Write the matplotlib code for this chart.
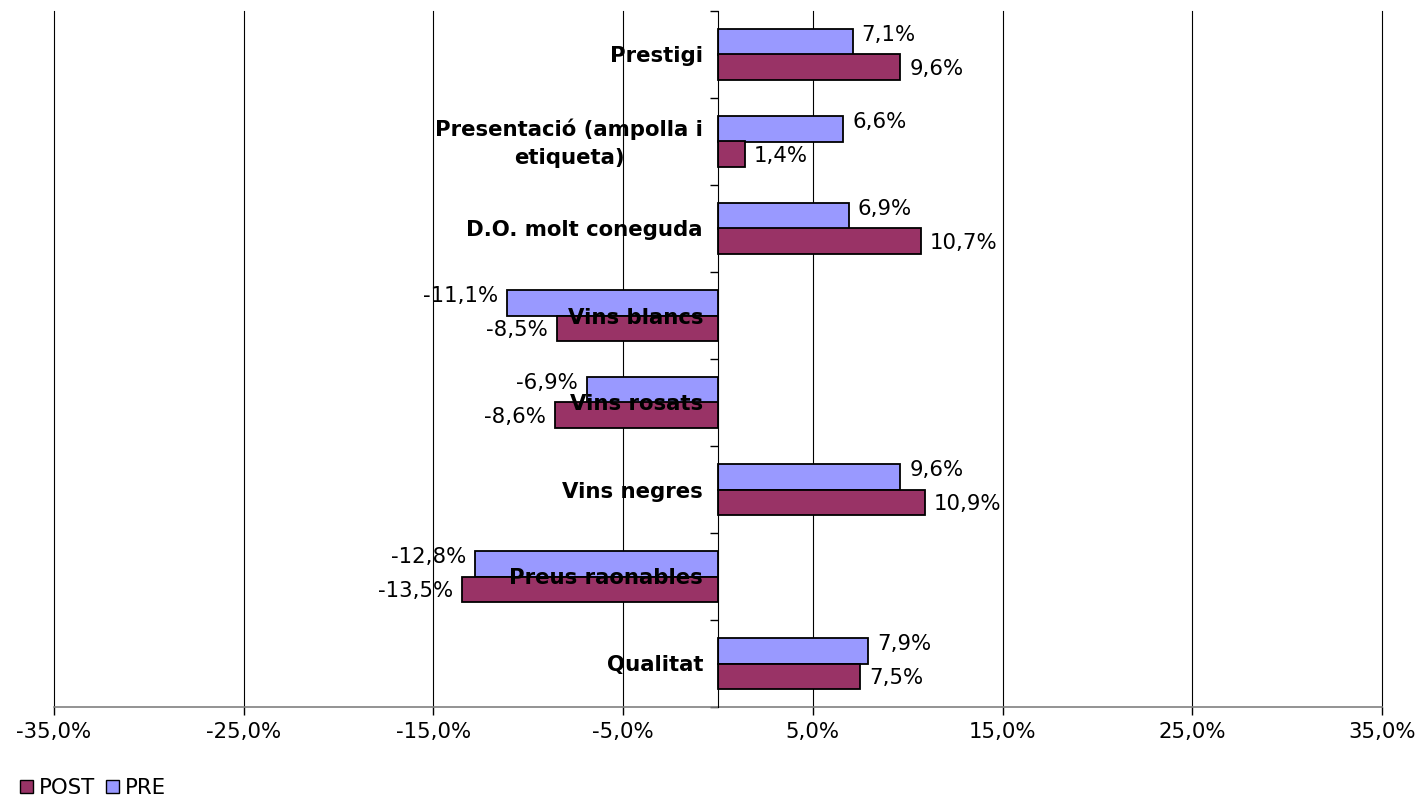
import matplotlib
matplotlib.use("Agg")
import matplotlib.pyplot as plt
import numpy as np
from matplotlib.patches import Patch
from matplotlib.ticker import FixedLocator, NullFormatter

# Data (bottom to top)
categories = ["Qualitat", "Preus raonables", "Vins negres", "Vins rosats",
              "Vins blancs", "D.O. molt coneguda",
              "Presentació (ampolla i\netiqueta)", "Prestigi"]
pre_values = [7.9, -12.8, 9.6, -6.9, -11.1, 6.9, 6.6, 7.1]
post_values = [7.5, -13.5, 10.9, -8.6, -8.5, 10.7, 1.4, 9.6]
xticks = [-35, -25, -15, -5, 5, 15, 25, 35]
xtick_labels = ["-35,0%", "-25,0%", "-15,0%", "-5,0%", "5,0%", "15,0%", "25,0%", "35,0%"]

POST_COLOR = "#993366"
PRE_COLOR = "#9999FF"
FS = 15.3

plt.rcParams['font.family'] = ['DejaVu Sans']

fig = plt.figure(figsize=(14.2, 7.99), dpi=100)
ax = fig.add_axes([54/1420, 1-707/799, (1382-54)/1420, (707-11)/799])

ax.spines['left'].set_position(('data', 0))

y = np.arange(len(categories))
h = 0.29
ax.barh(y + h/2, pre_values, height=h, color=PRE_COLOR, edgecolor='black', linewidth=1.3, zorder=2)
ax.barh(y - h/2, post_values, height=h, color=POST_COLOR, edgecolor='black', linewidth=1.3, zorder=2)

def fmt(v):
    return f"{v:.1f}%".replace(".", ",")

for yi, v in zip(y, pre_values):
    off = 9 if v >= 0 else -9
    ax.annotate(fmt(v), (v, yi + h/2), xytext=(off, 7), textcoords='offset pixels',
                ha='left' if v >= 0 else 'right', va='center', fontsize=FS, zorder=4)
for yi, v in zip(y, post_values):
    off = 9 if v >= 0 else -9
    ax.annotate(fmt(v), (v, yi - h/2), xytext=(off, -2), textcoords='offset pixels',
                ha='left' if v >= 0 else 'right', va='center', fontsize=FS, zorder=4)

# category labels, drawn on top of bars
for yi, c in zip(y, categories):
    ax.annotate(c, (0, yi), xytext=(-15, -2), textcoords='offset pixels',
                ha='right', va='center', multialignment='center', linespacing=1.5,
                fontsize=FS, fontweight='bold', zorder=6)

ax.set_xlim(-35, 35)
ax.set_ylim(-0.5, len(categories) - 0.5)

ax.set_xticks(xticks)
ax.set_xticklabels(xtick_labels, fontsize=FS)
ax.tick_params(axis='x', length=6, width=1, color='black', pad=5)

ax.set_yticks(y)
ax.yaxis.set_major_formatter(NullFormatter())
ax.yaxis.set_minor_locator(FixedLocator(np.arange(-0.5, len(categories), 1.0)))
ax.tick_params(axis='y', which='major', length=0)
ax.tick_params(axis='y', which='minor', length=6, width=1, color='black', direction='out')

ax.spines['left'].set_color('black')
ax.spines['left'].set_zorder(3)
ax.spines['top'].set_visible(False)
ax.spines['right'].set_visible(False)
ax.spines['bottom'].set_color('#808080')
ax.spines['bottom'].set_linewidth(1.2)

ax.grid(axis='x', color='black', linewidth=0.8)
ax.set_axisbelow(True)
for gl in ax.get_xgridlines():
    gl.set_clip_on(False)

handles = [Patch(facecolor=POST_COLOR, edgecolor='black', label='POST'),
           Patch(facecolor=PRE_COLOR, edgecolor='black', label='PRE')]
fig.legend(handles=handles, loc='lower left', bbox_to_anchor=(0.005, -0.015), ncol=2,
           frameon=False, fontsize=FS, handlelength=0.6, handleheight=0.6,
           handletextpad=0.3, columnspacing=0.5, borderaxespad=0.2)

fig.savefig("out.png", dpi=100)
